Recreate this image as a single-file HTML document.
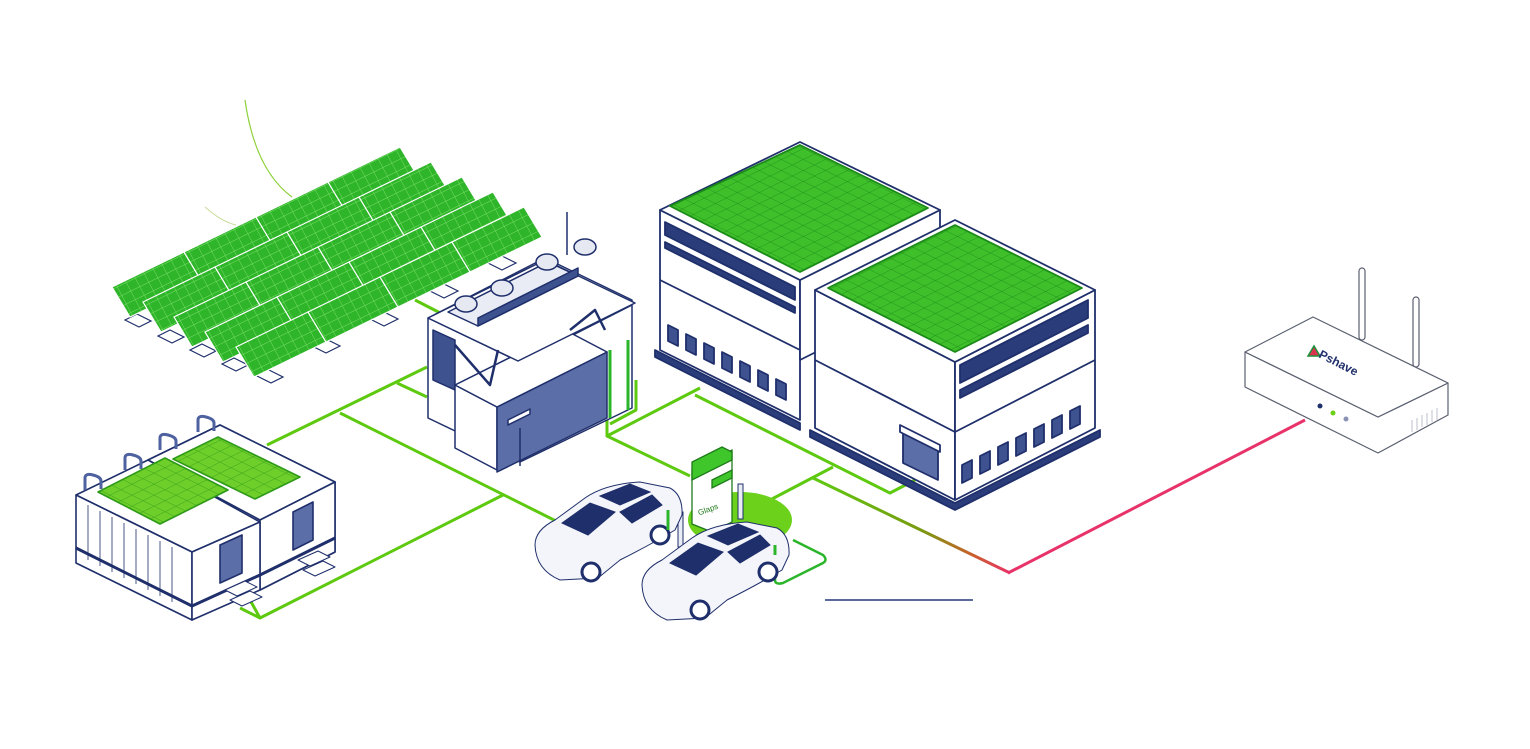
<!DOCTYPE html>
<html><head><meta charset="utf-8"><style>
html,body{margin:0;padding:0;background:#fff;}
svg{display:block;}
</style></head><body>
<svg width="1530" height="749" viewBox="0 0 1530 749" xmlns="http://www.w3.org/2000/svg" font-family="Liberation Sans, sans-serif">
<defs>
<pattern id="sg" width="9" height="9" patternUnits="userSpaceOnUse" patternTransform="matrix(1,-0.49,0.5,0.95,0,0)">
<rect width="9" height="9" fill="#2fb52a"/><path d="M0 0H9M0 0V9" stroke="#7ce06a" stroke-width="0.8"/>
</pattern>
<pattern id="sg2" width="11" height="11" patternUnits="userSpaceOnUse" patternTransform="matrix(1,-0.5,1,0.5,0,0)">
<rect width="11" height="11" fill="#3fbf2a"/><path d="M0 0H11M0 0V11" stroke="#1e8f1a" stroke-width="0.9"/>
</pattern>
<pattern id="sg3" width="11" height="11" patternUnits="userSpaceOnUse" patternTransform="matrix(1,0.5,-1,0.5,0,0)">
<rect width="11" height="11" fill="#6fcf2a"/><path d="M0 0H11M0 0V11" stroke="#2f9a1a" stroke-width="0.9"/>
</pattern>
<linearGradient id="gr" x1="815" y1="478" x2="1010" y2="573" gradientUnits="userSpaceOnUse">
<stop offset="0" stop-color="#5dc90f"/><stop offset="0.55" stop-color="#7a9a10"/><stop offset="0.8" stop-color="#c8602a"/><stop offset="1" stop-color="#e8336a"/>
</linearGradient>
</defs>

<path d="M245 100 Q255 170 292 197" fill="none" stroke="#8ed13a" stroke-width="1.2"/>
<path d="M205 207 Q222 222 236 225" fill="none" stroke="#c6dc9a" stroke-width="1"/>

<g stroke="#5dc90f" stroke-width="3" fill="none" stroke-linejoin="round">
<polyline points="267,445 427,367"/>
<polyline points="397,383 427,397"/>
<polyline points="340,413 560,523"/>
<polyline points="503,495 260,618 240,608"/>
<polyline points="250,600 260,618"/>
<polyline points="700,388 607,436 690,476"/>
<polyline points="607,420 607,436"/>
<polyline points="695,395 890,493 915,480"/>
<polyline points="770,500 833,467"/>
<polyline points="415,300 450,318"/>
<polyline points="636,380 636,410 610,424"/>
</g>
<polyline points="813,478 1010,573" stroke="url(#gr)" stroke-width="3" fill="none"/>
<polyline points="1008,573 1305,420" stroke="#e8336a" stroke-width="3" fill="none"/>
<line x1="825" y1="600" x2="973" y2="600" stroke="#5a6a9a" stroke-width="2"/>

<g fill="#fff" stroke="#1f2f6b" stroke-width="1.2">
<path d="M125 320 l12-6 14 7 -12 6z"/><path d="M158 336 l12-6 14 7 -12 6z"/><path d="M190 350 l12-6 14 7 -12 6z"/><path d="M222 364 l12-6 14 7 -12 6z"/><path d="M255 375 l12-6 16 8 -12 6z"/>
<path d="M310 345 l14-7 16 8 -14 7z"/><path d="M368 318 l14-7 16 8 -14 7z"/><path d="M428 290 l14-7 16 8 -14 7z"/><path d="M486 262 l14-7 16 8 -14 7z"/>
</g>

<g stroke="#ffffff" stroke-width="1.2" fill="url(#sg)">
<path d="M112 287 l72 -35 18 30 -72 35z"/><path d="M184 252 l72 -35 18 30 -72 35z"/><path d="M256 217 l72 -35 18 30 -72 35z"/><path d="M328 182 l72 -35 18 30 -72 35z"/>
<path d="M143 302 l72 -35 18 30 -72 35z"/><path d="M215 267 l72 -35 18 30 -72 35z"/><path d="M287 232 l72 -35 18 30 -72 35z"/><path d="M359 197 l72 -35 18 30 -72 35z"/>
<path d="M174 317 l72 -35 18 30 -72 35z"/><path d="M246 282 l72 -35 18 30 -72 35z"/><path d="M318 247 l72 -35 18 30 -72 35z"/><path d="M390 212 l72 -35 18 30 -72 35z"/>
<path d="M205 332 l72 -35 18 30 -72 35z"/><path d="M277 297 l72 -35 18 30 -72 35z"/><path d="M349 262 l72 -35 18 30 -72 35z"/><path d="M421 227 l72 -35 18 30 -72 35z"/>
<path d="M236 347 l72 -35 18 30 -72 35z"/><path d="M308 312 l72 -35 18 30 -72 35z"/><path d="M380 277 l72 -35 18 30 -72 35z"/><path d="M452 242 l72 -35 18 30 -72 35z"/>
</g>

<g stroke="#1f2f6b" stroke-width="1.5" stroke-linejoin="round">
<line x1="567" y1="212" x2="567" y2="255"/>
<path d="M428 318 L545 258 L632 300 L632 408 L520 462 L428 418Z" fill="#fff"/>
<path d="M428 318 L520 362 L632 305" fill="none"/>
<path d="M433 330 l22 10 v50 l-22 -10z" fill="#3f5290"/>
<path d="M455 385 L497 407 L497 470 L455 448Z" fill="#fff"/>
<path d="M497 407 L607 352 L607 418 L497 472Z" fill="#5b6ea8"/>
<path d="M455 385 L565 330 L607 352 L497 407Z" fill="#fff"/>
<path d="M508 420 l22 -11 v5 l-22 11z" fill="#fff"/>
<path d="M520 428 v38" fill="none"/>
<path d="M428 318 l117 -58 90 43 -117 58z" fill="#fff"/>
<path d="M455 345 l35 40 l8 -35 M570 330 l25 -20 l10 20" fill="none" stroke-width="2.5"/>
<path d="M448 312 l100 -50 30 14 -100 50z" fill="#e9ecf5"/>
<path d="M478 318 l100 -50 v8 l-100 50z" fill="#3f5290"/>
</g>
<g fill="#e6e9f2" stroke="#1f2f6b" stroke-width="1.5">
<ellipse cx="466" cy="304" rx="11" ry="8"/><ellipse cx="502" cy="288" rx="11" ry="8"/><ellipse cx="547" cy="262" rx="11" ry="8"/><ellipse cx="585" cy="247" rx="11" ry="8"/>
</g>
<g stroke="#2bb52a" stroke-width="3"><line x1="610" y1="350" x2="610" y2="418"/><line x1="628" y1="340" x2="628" y2="410"/></g>

<g stroke="#1f2f6b" stroke-width="1.8" stroke-linejoin="round">
<path d="M655 350 L800 423 L800 430 L655 357Z" fill="#2a3c7a"/>
<path d="M660 210 L800 280 L800 420 L660 350Z" fill="#fff"/>
<path d="M800 280 L940 210 L940 290 L800 360Z" fill="#fff"/>
<path d="M660 210 L800 142 L940 210 L800 280Z" fill="#fff"/>
<path d="M670 206 L800 145 L928 208 L800 272Z" fill="url(#sg2)" stroke="#1b8a18"/>
<path d="M665 222 L795 287 L795 300 L665 235Z" fill="#2a3c7a"/>
<path d="M665 242 L795 307 L795 313 L665 248Z" fill="#2a3c7a"/>
<path d="M660 280 L800 350" fill="none"/>
<path d="M668 325 l10 5 v16 l-10 -5z M686 334 l10 5 v16 l-10 -5z M704 343 l10 5 v16 l-10 -5z M722 352 l10 5 v16 l-10 -5z M740 361 l10 5 v16 l-10 -5z M758 370 l10 5 v16 l-10 -5z M776 379 l10 5 v16 l-10 -5z" fill="#3f5290"/>
</g>

<g stroke="#1f2f6b" stroke-width="1.8" stroke-linejoin="round">
<path d="M810 430 L955 503 L1100 430 L1100 437 L955 510 L810 437Z" fill="#2a3c7a"/>
<path d="M815 290 L955 362 L955 500 L815 428Z" fill="#fff"/>
<path d="M955 362 L1095 290 L1095 428 L955 500Z" fill="#fff"/>
<path d="M815 290 L955 220 L1095 290 L955 362Z" fill="#fff"/>
<path d="M828 288 L955 225 L1082 288 L955 352Z" fill="url(#sg2)" stroke="#1b8a18"/>
<path d="M815 360 L955 432 L1095 360" fill="none"/>
<path d="M960 365 L1088 300 L1088 318 L960 383Z" fill="#2a3c7a"/>
<path d="M960 390 L1088 325 L1088 333 L960 398Z" fill="#2a3c7a"/>
<path d="M903 428 l35 17 v35 l-35 -17z" fill="#5b6ea8"/>
<path d="M900 425 l40 20 v7 l-40 -20z" fill="#fff"/>
<path d="M962 465 l10 -5 v18 l-10 5z M980 456 l10 -5 v18 l-10 5z M998 447 l10 -5 v18 l-10 5z M1016 438 l10 -5 v18 l-10 5z M1034 429 l10 -5 v18 l-10 5z M1052 420 l10 -5 v18 l-10 5z M1070 411 l10 -5 v18 l-10 5z" fill="#3f5290"/>
</g>

<g stroke="#1f2f6b" stroke-width="1.6" stroke-linejoin="round">
<path d="M148 460 L220 425 L335 482 L335 552 L260 590 L148 530Z" fill="#fff"/>
<path d="M148 460 L220 425 L335 482 L260 520Z" fill="#fff"/>
<path d="M260 520 L335 482 L335 552 L260 590Z" fill="#fff"/>
<path d="M76 495 L148 460 L260 522 L192 552Z" fill="#fff"/>
<path d="M76 495 L192 552 L192 620 L76 563Z" fill="#fff"/>
<path d="M192 552 L260 522 L260 590 L192 620Z" fill="#fff"/>
<path d="M76 548 L192 606 M192 606 L260 575 M260 575 L335 538" fill="none" stroke-width="3"/>
<path d="M220 545 l22 -10 v38 l-22 10z M293 512 l20 -10 v38 l-20 10z" fill="#5b6ea8"/>
<path d="M225 590 l20 -9 12 6 -20 9z M230 600 l20 -9 12 6 -20 9z M298 560 l20 -9 12 6 -20 9z M303 570 l20 -9 12 6 -20 9z" fill="#fff" stroke-width="1"/>
<path d="M98 492 L165 458 L228 490 L160 524Z" fill="url(#sg3)" stroke="#2f9a1a"/>
<path d="M173 459 L218 437 L300 477 L255 499Z" fill="url(#sg3)" stroke="#2f9a1a"/>
<path d="M85 490 v-12 q0-5 8-3 t8 6 v8 M125 470 v-12 q0-5 8-3 t8 6 v8 M160 450 v-12 q0-5 8-3 t8 6 v8 M198 432 v-12 q0-5 8-3 t8 6 v8" fill="none" stroke="#4f62a0" stroke-width="3"/>
<path d="M88 505 v55 M100 511 v55 M112 517 v55 M124 523 v55 M136 529 v55 M148 535 v55 M160 541 v55 M172 547 v55" stroke-width="0.8" fill="none"/>
</g>

<ellipse cx="740" cy="520" rx="52" ry="28" fill="#6cd11a"/>
<g stroke="#1f7a1a" stroke-width="1.3">
<path d="M692 470 l40 -20 v72 l-20 10 -20 -8z" fill="#fff"/>
<path d="M692 470 v-8 l30 -15 10 5 v8 l-40 20z" fill="#3ec62a"/>
<path d="M712 480 l20 -10 v8 l-20 10z" fill="#3ec62a"/>
<text x="698" y="515" font-size="8" fill="#1f7a1a" stroke="none" transform="rotate(-20 700 512)">Glaps</text>
</g>
<rect x="678" y="512" width="5" height="35" fill="#e9ecf5" stroke="#1f2f6b" stroke-width="1"/>
<rect x="738" y="484" width="5" height="35" fill="#e9ecf5" stroke="#1f2f6b" stroke-width="1"/>
<path d="M775 555 v25 q0 5 8 3 l40 -20 q5-3 0-8 l-30 -15" fill="none" stroke="#2bb52a" stroke-width="2.5"/>

<g stroke="#1f2f6b" stroke-width="1">
<path d="M535 545 Q535 530 555 520 L585 498 Q605 484 640 482 L670 488 Q683 495 682 515 L675 530 Q650 545 620 560 L598 578 L560 580 Q536 570 535 545Z" fill="#f4f5fa"/>
<path d="M562 523 L590 503 L615 512 L588 535Z" fill="#1f2f6b"/>
<path d="M600 496 L630 484 L650 492 L620 505Z" fill="#1f2f6b"/>
<path d="M620 512 L652 495 L662 505 L632 523Z" fill="#1f2f6b"/>
<circle cx="591" cy="572" r="9" fill="#fff" stroke-width="3"/>
<circle cx="660" cy="535" r="9" fill="#fff" stroke-width="3"/>
<path d="M642 585 Q642 570 662 560 L692 538 Q712 524 747 522 L777 528 Q790 535 789 555 L782 570 Q757 585 727 600 L705 618 L667 620 Q643 610 642 585Z" fill="#f4f5fa"/>
<path d="M670 563 L698 543 L723 552 L696 575Z" fill="#1f2f6b"/>
<path d="M708 536 L738 524 L758 532 L728 545Z" fill="#1f2f6b"/>
<path d="M728 552 L760 535 L770 545 L740 563Z" fill="#1f2f6b"/>
<circle cx="700" cy="610" r="9" fill="#fff" stroke-width="3"/>
<circle cx="768" cy="572" r="9" fill="#fff" stroke-width="3"/>
</g>
<path d="M668 510 v20 M775 545 v10" stroke="#2bb52a" stroke-width="3"/>

<g stroke="#5a6070" stroke-width="1.2" stroke-linejoin="round">
<rect x="1359" y="268" width="6" height="72" rx="3" fill="#fff"/>
<rect x="1413" y="297" width="6" height="70" rx="3" fill="#fff"/>
<path d="M1245 352 L1378 417 L1448 383 L1448 415 L1378 453 L1245 387Z" fill="#fff"/>
<path d="M1245 352 L1313 317 L1448 383 L1378 417Z" fill="#fff"/>
<path d="M1412 420 v12 M1417 418 v12 M1422 415 v12 M1427 413 v12 M1432 410 v12 M1437 408 v12" stroke="#c8ccd6" fill="none"/>
</g>
<path d="M1308 356 l6 -10 6 10z" fill="#d9344e" stroke="#1e8f3a" stroke-width="1.5"/>
<text x="1318" y="357" font-size="12" font-weight="bold" fill="#1f2f6b" transform="rotate(27 1318 357)">Pshave</text>
<circle cx="1320" cy="406" r="2.5" fill="#1f2f6b"/>
<circle cx="1333" cy="413" r="2.5" fill="#6cd11a"/>
<circle cx="1346" cy="419" r="2.5" fill="#8a93b5"/>
</svg>
</body></html>
